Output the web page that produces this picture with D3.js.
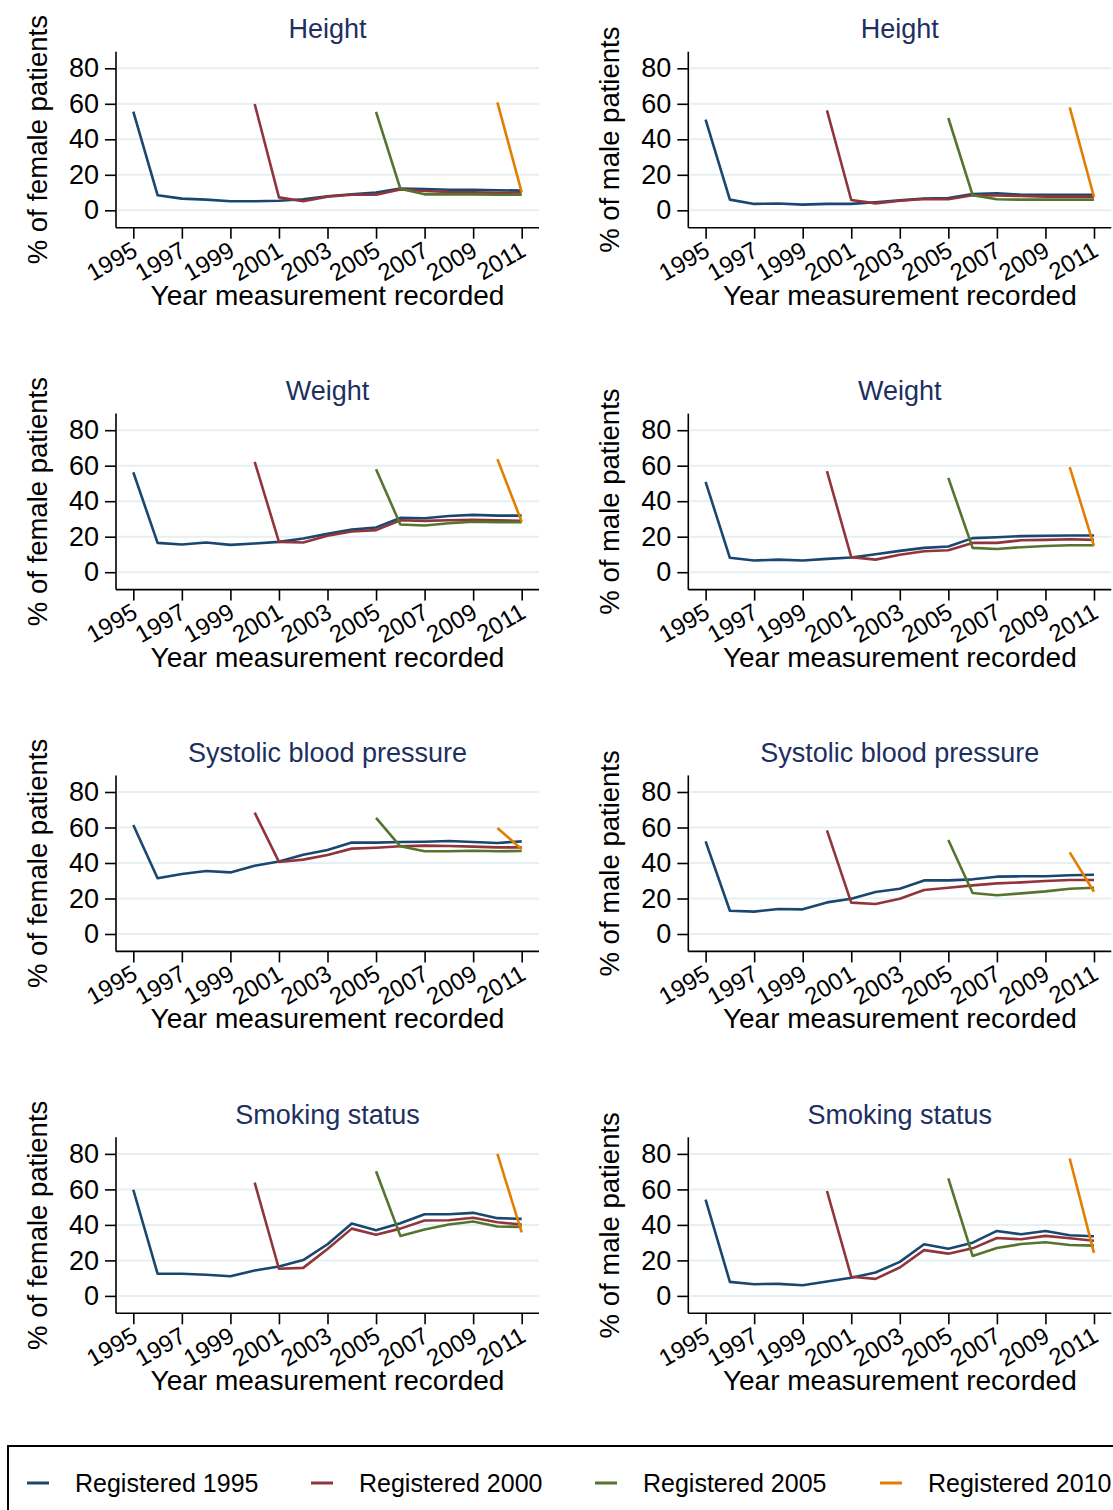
<!DOCTYPE html>
<html>
<head>
<meta charset="utf-8">
<script src="https://cdn.jsdelivr.net/npm/d3@7"></script>
<style>
  html, body { margin: 0; padding: 0; background: #fff; }
  svg { display: block; }
  text { font-family: "Liberation Sans", Arial, Helvetica, sans-serif; fill: #000; }
</style>
</head>
<body>
<svg id="chart" width="1113" height="1510"></svg>
<script>
// Calendar years on the x axis and labelled ticks
const years = d3.range(1995, 2012);
const xTickYears = [1995, 1997, 1999, 2001, 2003, 2005, 2007, 2009, 2011];
const yTicks = [0, 20, 40, 60, 80];

// Registration cohorts: each series starts in its registration year
const cohortStarts = [1995, 2000, 2005, 2010];
const cohortLabels = ["Registered 1995", "Registered 2000", "Registered 2005", "Registered 2010"];
const cohortColors = ["#1a476f", "#90353b", "#55752f", "#e37e00"];

// % of patients with a measurement recorded, by cohort (values from the cohort start year to 2011)
const heightFemale = [
  [55.6, 8.5, 6.6, 6.0, 5.1, 5.1, 5.4, 6.2, 7.9, 9.0, 10.0, 12.2, 12.0, 11.6, 11.5, 11.3, 11.1],
  [59.9, 7.3, 5.1, 7.7, 8.8, 8.8, 11.8, 10.9, 10.3, 10.1, 9.8, 10.0],
  [55.4, 12.2, 9.0, 9.0, 9.0, 8.8, 8.8],
  [60.8, 10.1]
];
const heightMale = [
  [51.1, 6.0, 3.6, 3.8, 3.2, 3.6, 3.6, 4.5, 5.6, 6.6, 6.9, 9.2, 9.6, 8.8, 8.8, 8.8, 8.8],
  [56.3, 5.8, 3.9, 5.4, 6.4, 6.2, 8.5, 8.3, 8.1, 7.7, 7.7, 7.7],
  [52.0, 8.5, 6.2, 6.0, 6.0, 6.0, 6.0],
  [58.0, 7.5]
];
const weightFemale = [
  [56.3, 16.5, 15.6, 16.7, 15.4, 16.2, 17.1, 19.0, 21.6, 24.0, 25.2, 30.6, 30.4, 31.7, 32.3, 31.9, 31.9],
  [62.2, 17.1, 16.7, 20.5, 22.9, 23.7, 29.3, 28.9, 29.3, 29.5, 29.3, 28.9],
  [58.0, 26.9, 26.3, 27.6, 28.4, 28.2, 28.2],
  [63.7, 28.4]
];
const weightMale = [
  [50.9, 8.1, 6.6, 7.1, 6.6, 7.5, 8.3, 10.1, 12.0, 13.7, 14.5, 19.2, 19.7, 20.3, 20.5, 20.7, 20.7],
  [56.9, 8.5, 7.1, 9.8, 11.8, 12.4, 16.5, 16.5, 18.0, 18.2, 18.6, 18.2],
  [53.1, 13.7, 13.1, 14.1, 14.8, 15.2, 15.2],
  [59.2, 14.8]
];
const sbpFemale = [
  [61.4, 31.4, 33.8, 35.5, 34.7, 38.5, 40.8, 44.7, 47.3, 51.5, 51.5, 51.8, 52.0, 52.4, 51.8, 51.3, 52.2],
  [68.4, 40.6, 41.9, 44.5, 48.1, 48.6, 49.4, 49.8, 49.6, 49.2, 48.8, 48.8],
  [65.4, 49.4, 46.6, 46.6, 46.9, 46.6, 46.8],
  [59.7, 47.7]
];
const sbpMale = [
  [52.2, 13.1, 12.6, 14.1, 13.9, 17.8, 19.9, 23.7, 25.5, 30.2, 30.2, 30.8, 32.3, 32.5, 32.5, 33.1, 33.4],
  [58.4, 17.7, 16.9, 19.9, 24.8, 26.1, 27.4, 28.5, 29.1, 29.9, 30.4, 30.4],
  [53.0, 23.1, 21.8, 22.9, 24.0, 25.5, 26.1],
  [46.0, 23.8]
];
const smokingFemale = [
  [59.8, 12.5, 12.5, 11.9, 11.1, 14.3, 16.6, 20.2, 29.1, 40.8, 37.0, 40.9, 46.0, 46.0, 46.8, 43.8, 43.4],
  [63.8, 15.3, 15.8, 26.4, 37.9, 34.5, 37.9, 42.5, 42.6, 44.0, 41.5, 40.2],
  [70.2, 33.8, 37.4, 40.2, 41.9, 39.1, 38.9],
  [80.0, 35.8]
];
const smokingMale = [
  [54.3, 7.9, 6.6, 6.8, 6.0, 8.1, 10.2, 13.2, 19.2, 29.1, 26.6, 30.0, 36.6, 34.7, 36.6, 34.2, 33.6],
  [59.1, 10.8, 9.6, 16.0, 25.8, 23.8, 26.8, 32.6, 31.9, 33.8, 32.5, 31.1],
  [66.2, 22.5, 27.0, 29.2, 30.2, 28.7, 28.3],
  [77.4, 24.2]
];

// Panel grid: rows are measures, columns are sexes
const panelTitles = ["Height", "Weight", "Systolic blood pressure", "Smoking status"];
const yAxisTitles = ["% of female patients", "% of male patients"];
const xAxisTitle = "Year measurement recorded";
const panelData = [
  [heightFemale, heightMale],
  [weightFemale, weightMale],
  [sbpFemale, sbpMale],
  [smokingFemale, smokingMale]
];

const svg = d3.select("#chart");
svg.append("rect").attr("width", 1113).attr("height", 1510).attr("fill", "#fff");

const plotW = 423, plotH = 176;
const colLeft = [116, 688.3];
const rowTop = [51.7, 413.6, 775.4, 1137.3];
const titleColor = "#1e2f5f";
const gridColor = "#e6eff1";

const x = d3.scaleLinear().domain([1994.287, 2011.713]).range([0, plotW]);
const y = d3.scaleLinear().domain([-9.8, 89.35]).range([plotH, 0]);

const line = d3.line()
  .x(d => x(d.year))
  .y(d => y(d.value));

panelData.forEach((rowData, r) => {
  rowData.forEach((cohorts, c) => {
    const g = svg.append("g")
      .attr("transform", `translate(${colLeft[c]},${rowTop[r]})`);

    // horizontal grid lines
    g.append("g").selectAll("line")
      .data(yTicks)
      .join("line")
      .attr("x1", 2).attr("x2", plotW)
      .attr("y1", d => y(d)).attr("y2", d => y(d))
      .attr("stroke", gridColor)
      .attr("stroke-width", 2);

    // y axis
    const yAxis = g.append("g")
      .call(d3.axisLeft(y).tickValues(yTicks).tickSize(11).tickPadding(6).tickFormat(d3.format("d")));
    yAxis.select(".domain").attr("d", `M0,0V${plotH}`).attr("stroke", "#000").attr("stroke-width", 1.6);
    yAxis.selectAll(".tick line").attr("stroke", "#000").attr("stroke-width", 1.6);
    yAxis.selectAll(".tick text")
      .attr("font-size", 27)
      .attr("font-family", "Liberation Sans, Arial, sans-serif")
      .attr("fill", "#000");

    // x axis
    const xAxis = g.append("g")
      .attr("transform", `translate(0,${plotH})`)
      .call(d3.axisBottom(x).tickValues(xTickYears).tickSize(11).tickFormat(d3.format("d")));
    xAxis.select(".domain").attr("d", `M0,0H${plotW}`).attr("stroke", "#000").attr("stroke-width", 1.6);
    xAxis.selectAll(".tick line").attr("stroke", "#000").attr("stroke-width", 1.6);
    xAxis.selectAll(".tick text")
      .attr("font-size", 24)
      .attr("font-family", "Liberation Sans, Arial, sans-serif")
      .attr("fill", "#000")
      .attr("text-anchor", "end")
      .attr("y", 0)
      .attr("dy", "0.35em")
      .attr("transform", "translate(1,20) rotate(-30)");

    // cohort series
    cohorts.forEach((vals, k) => {
      const pts = vals.map((v, i) => ({ year: cohortStarts[k] + i, value: v }));
      g.append("path")
        .datum(pts)
        .attr("fill", "none")
        .attr("stroke", cohortColors[k])
        .attr("stroke-width", 2.6)
        .attr("stroke-linejoin", "round")
        .attr("d", line);
    });

    // panel title
    g.append("text")
      .attr("x", plotW / 2)
      .attr("y", -13.5)
      .attr("text-anchor", "middle")
      .attr("font-size", 27)
      .style("fill", titleColor)
      .text(panelTitles[r]);

    // y axis title
    g.append("text")
      .attr("transform", `translate(${-69},${plotH / 2}) rotate(-90)`)
      .attr("text-anchor", "middle")
      .attr("font-size", 27.5)
      .text(yAxisTitles[c]);

    // x axis title
    g.append("text")
      .attr("x", plotW / 2)
      .attr("y", plotH + 77)
      .attr("text-anchor", "middle")
      .attr("font-size", 28)
      .text(xAxisTitle);
  });
});

// legend
const legend = svg.append("g");
legend.append("rect")
  .attr("x", 8).attr("y", 1446)
  .attr("width", 1200).attr("height", 120)
  .attr("fill", "#fff")
  .attr("stroke", "#000")
  .attr("stroke-width", 2);

const legendX = [27, 311, 595, 880];
cohortLabels.forEach((lab, k) => {
  const item = legend.append("g").attr("transform", `translate(${legendX[k]},1483)`);
  item.append("line")
    .attr("x1", 0).attr("x2", 22)
    .attr("y1", 0).attr("y2", 0)
    .attr("stroke", cohortColors[k])
    .attr("stroke-width", 3);
  item.append("text")
    .attr("x", 48)
    .attr("y", 9)
    .attr("font-size", 25)
    .text(lab);
});
</script>
</body>
</html>
